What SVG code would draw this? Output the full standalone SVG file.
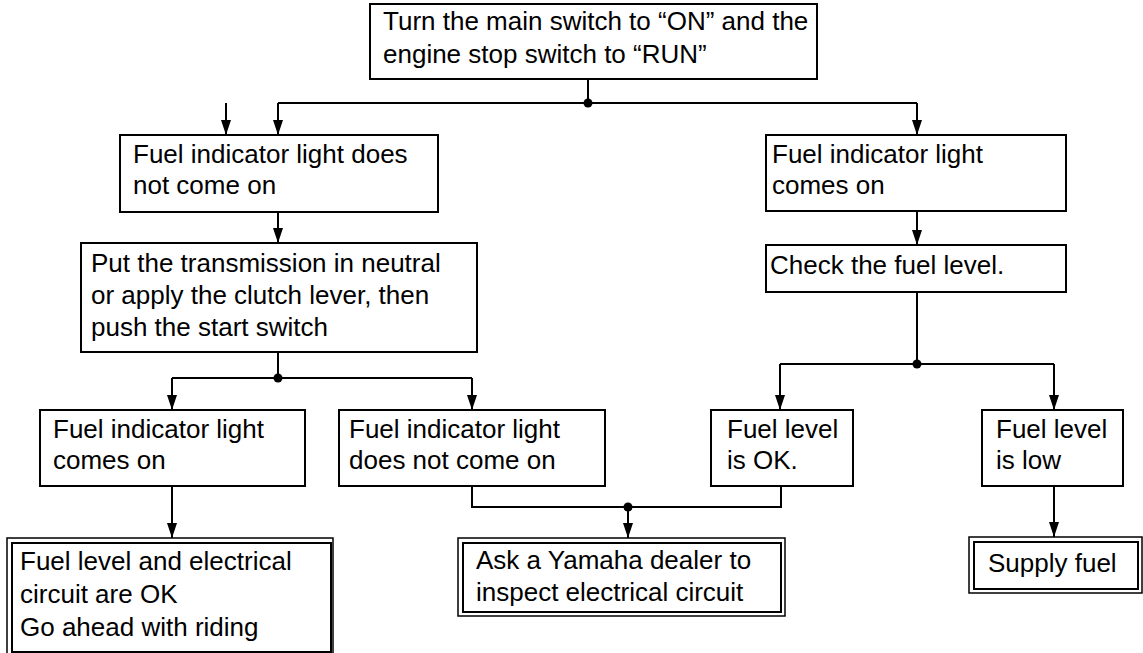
<svg xmlns="http://www.w3.org/2000/svg" width="1143" height="653" viewBox="0 0 1143 653">
<style>
.box{fill:#fff;stroke:#000;stroke-width:2}
.outer{fill:#fff;stroke:#000;stroke-width:1.5}
.inner{fill:none;stroke:#000;stroke-width:2}
text{font-family:"Liberation Sans",Arial,sans-serif;font-size:26px;fill:#000}
.c{fill:none;stroke:#000;stroke-width:2}
.dot{fill:#000}
</style>
<defs>
<marker id="ah" viewBox="0 0 15 10" markerWidth="15" markerHeight="10" refX="15" refY="5" orient="auto" markerUnits="userSpaceOnUse">
<path d="M0,0 L15,5 L0,10 z" fill="#000"/>
</marker>
</defs>
<g id="connectors">
<path class="c" d="M588,79 V103"/>
<path class="c" d="M278,103 H917"/>
<path class="c" d="M278,103 V135" marker-end="url(#ah)"/>
<path class="c" d="M917,103 V135" marker-end="url(#ah)"/>
<path class="c" d="M226,103 V135" marker-end="url(#ah)"/>
<path class="c" d="M278,212 V243" marker-end="url(#ah)"/>
<path class="c" d="M278,352 V378"/>
<path class="c" d="M172,378 H472"/>
<path class="c" d="M172,378 V410" marker-end="url(#ah)"/>
<path class="c" d="M472,378 V410" marker-end="url(#ah)"/>
<path class="c" d="M917,211 V245" marker-end="url(#ah)"/>
<path class="c" d="M917,292 V364"/>
<path class="c" d="M780,364 H1054"/>
<path class="c" d="M780,364 V410" marker-end="url(#ah)"/>
<path class="c" d="M1054,364 V410" marker-end="url(#ah)"/>
<path class="c" d="M172,486 V538" marker-end="url(#ah)"/>
<path class="c" d="M472,486 V507 H781 V486"/>
<path class="c" d="M628,507 V538" marker-end="url(#ah)"/>
<path class="c" d="M1054,486 V537" marker-end="url(#ah)"/>
<circle class="dot" cx="588" cy="103" r="4.5"/>
<circle class="dot" cx="278" cy="378" r="4.5"/>
<circle class="dot" cx="917" cy="364" r="4.5"/>
<circle class="dot" cx="628" cy="507" r="4.5"/>
</g>
<g id="n1"><rect class="box" x="370" y="4" width="447" height="75"/>
<text x="383" y="30">Turn the main switch to “ON” and the</text>
<text x="383" y="63">engine stop switch to “RUN”</text></g>
<g id="n2"><rect class="box" x="120" y="135" width="318" height="77"/>
<text x="133" y="163">Fuel indicator light does</text>
<text x="133" y="194">not come on</text></g>
<g id="n3"><rect class="box" x="766" y="135" width="300" height="76"/>
<text x="772" y="163">Fuel indicator light</text>
<text x="772" y="194">comes on</text></g>
<g id="n4"><rect class="box" x="81" y="243" width="396" height="109"/>
<text x="91" y="272">Put the transmission in neutral</text>
<text x="91" y="304">or apply the clutch lever, then</text>
<text x="91" y="336">push the start switch</text></g>
<g id="n5"><rect class="box" x="766" y="245" width="300" height="47"/>
<text x="770" y="274">Check the fuel level.</text></g>
<g id="n6"><rect class="box" x="40" y="410" width="265" height="76"/>
<text x="53" y="438">Fuel indicator light</text>
<text x="53" y="469">comes on</text></g>
<g id="n7"><rect class="box" x="339" y="410" width="266" height="76"/>
<text x="349" y="438">Fuel indicator light</text>
<text x="349" y="469">does not come on</text></g>
<g id="n8"><rect class="box" x="711" y="410" width="142" height="76"/>
<text x="727" y="438">Fuel level</text>
<text x="727" y="469">is OK.</text></g>
<g id="n9"><rect class="box" x="982" y="410" width="141" height="76"/>
<text x="996" y="438">Fuel level</text>
<text x="996" y="469">is low</text></g>
<g id="n10"><rect class="outer" x="7" y="538" width="326" height="120"/>
<rect class="inner" x="12" y="543" width="319" height="109"/>
<text x="20" y="570">Fuel level and electrical</text>
<text x="20" y="603">circuit are OK</text>
<text x="20" y="636">Go ahead with riding</text></g>
<g id="n11"><rect class="outer" x="458" y="538" width="327" height="78"/>
<rect class="inner" x="463" y="543" width="318" height="69"/>
<text x="476" y="569">Ask a Yamaha dealer to</text>
<text x="476" y="601">inspect electrical circuit</text></g>
<g id="n12"><rect class="outer" x="969" y="537" width="173" height="56"/>
<rect class="inner" x="974" y="542" width="164" height="47"/>
<text x="988" y="572">Supply fuel</text></g>
</svg>
